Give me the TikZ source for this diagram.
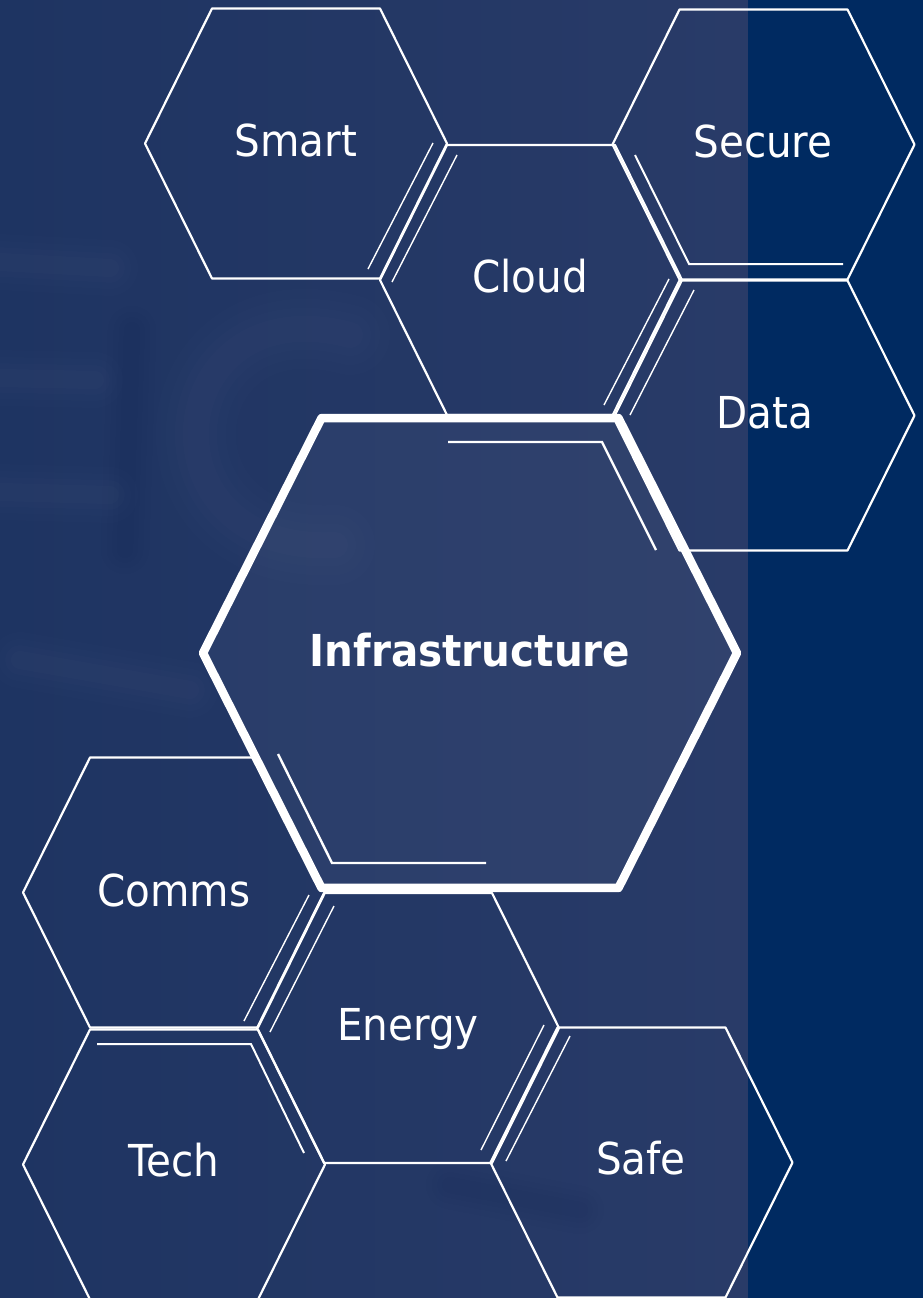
\documentclass[tikz,border=0pt]{standalone}
\usepackage{fontspec}
\newfontfamily\hexfont[FakeStretch=0.92]{DejaVu Sans}
\definecolor{photoblue}{HTML}{1E3462}
\definecolor{photoright}{HTML}{293B68}
\definecolor{navystrip}{HTML}{002A61}
\definecolor{glowblue}{HTML}{40527C}
\definecolor{shadeblue}{HTML}{0E2253}

\begin{document}
\begin{tikzpicture}[x=1pt,y=-1pt,
  hexedge/.style={draw=white, line width=2.2pt, line join=round},
  hexbig/.style={draw=white, line width=8.5pt, line join=round, fill=white, fill opacity=0.04},
  trim/.style={draw=white, line width=1.4pt},
  innertrim/.style={draw=white, line width=2.4pt},
  soft/.style={line cap=round, line join=round},
  hexlabel/.style={text=white, font=\hexfont\fontsize{44}{44}\selectfont, anchor=base, inner sep=0pt},
  hexcell/.pic={\path[pic actions] (-151,0) -- (-84,-135) -- (84,-135) -- (151,0) -- (84,135) -- (-84,135) -- cycle;}]
\useasboundingbox (0,0) rectangle (923,1298);
\clip (0,0) rectangle (923,1298);

% background: blurred photo on the left, plain navy strip on the right
\shade[left color=photoblue, right color=photoright] (0,0) rectangle (748,1298);
\fill[navystrip] (748,0) rectangle (923,1298);
\foreach \w/\o in {80/0.05,60/0.06,42/0.07,26/0.08}{
  \draw[soft, glowblue, line width=\w pt, opacity=\o] (350,335) .. controls (160,285) and (135,555) .. (335,545);
  \draw[soft, glowblue, line width=0.7*\w pt, opacity=\o] (0,262) -- (110,268);
  \draw[soft, glowblue, line width=0.7*\w pt, opacity=\o] (0,378) -- (95,380);
  \draw[soft, glowblue, line width=0.7*\w pt, opacity=\o] (0,492) -- (110,495);
  \draw[soft, glowblue, line width=0.7*\w pt, opacity=\o] (20,660) -- (190,690);
  \draw[soft, shadeblue, line width=0.6*\w pt, opacity=0.5*\o] (132,330) -- (125,550);
  \draw[soft, shadeblue, line width=0.6*\w pt, opacity=0.5*\o] (450,1185) -- (580,1210);
}

% small cells
\pic[hexedge] at (296,143.5) {hexcell};
\pic[hexedge] at (531,280) {hexcell};
\pic[hexedge] at (763.5,144.5) {hexcell};
\pic[hexedge] at (763.5,415.5) {hexcell};
\pic[hexedge] at (174,892.5) {hexcell};
\pic[hexedge] at (408,1028) {hexcell};
\pic[hexedge] at (174,1164.5) {hexcell};
\pic[hexedge] at (641.5,1162.5) {hexcell};

% centre cell
\pic[hexbig, xscale=1.768, yscale=1.74] at (470,653) {hexcell};

% trims beside the shared edges
\draw[trim] (433,143) -- (368,269);
\draw[trim] (457,155) -- (392,282);
\draw[trim] (669,279) -- (604,405);
\draw[trim] (694,290) -- (630,415);
\draw[trim] (309,895) -- (244,1021);
\draw[trim] (334,906) -- (270,1032);
\draw[trim] (544,1025) -- (481,1150);
\draw[trim] (570,1036) -- (506,1161);
\draw[trim, line width=2pt] (635,155) -- (689,264) -- (843,264);
\draw[trim, line width=2pt] (97,1044) -- (251,1044) -- (304,1153);
\draw[innertrim] (448,442) -- (602,442) -- (656,550);
\draw[innertrim] (278,754) -- (332,863) -- (486,863);

% labels
\node[hexlabel] (smart) at (296,156) {Smart};
\node[hexlabel] (cloud) at (530,292) {Cloud};
\node[hexlabel] (secure) at (763,157) {Secure};
\node[hexlabel] (data) at (765,428) {Data};
\node[hexlabel, font=\hexfont\bfseries\fontsize{44}{44}\selectfont] (infra) at (470,666) {Infrastructure};
\node[hexlabel] (comms) at (174,906) {Comms};
\node[hexlabel] (energy) at (408,1040) {Energy};
\node[hexlabel] (tech) at (174,1176) {Tech};
\node[hexlabel] (safe) at (641,1174) {Safe};
\end{tikzpicture}
\end{document}
